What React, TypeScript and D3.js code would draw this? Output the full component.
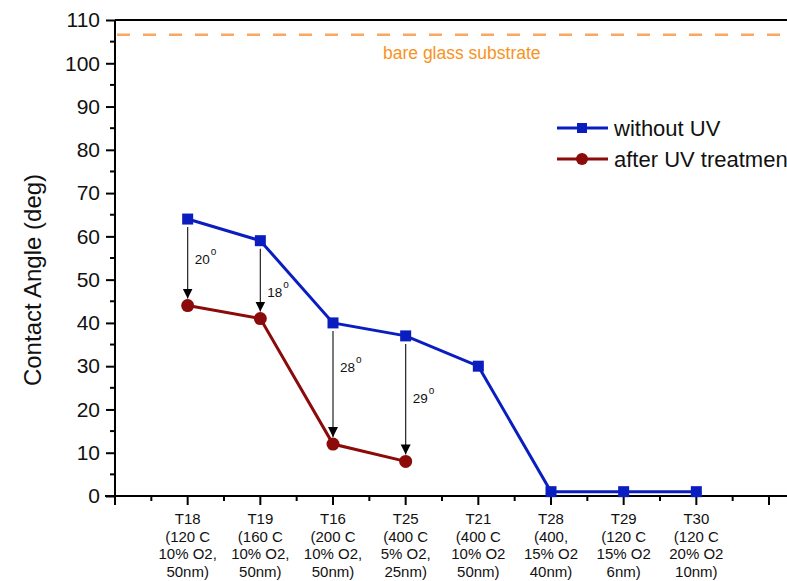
import { useEffect, useRef } from "react";
import * as d3 from "d3";

const samples = ["T18", "T19", "T16", "T25", "T21", "T28", "T29", "T30"];
const sampleInfo = [
  ["(120 C", "10% O2,", "50nm)"],
  ["(160 C", "10% O2,", "50nm)"],
  ["(200 C", "10% O2,", "50nm)"],
  ["(400 C", "5% O2,", "25nm)"],
  ["(400 C", "10% O2", "50nm)"],
  ["(400,", "15% O2", "40nm)"],
  ["(120 C", "15% O2", "6nm)"],
  ["(120 C", "20% O2", "10nm)"],
];
const withoutUV = [64, 59, 40, 37, 30, 1, 1, 1];
const afterUV = [44, 41, 12, 8];
const drops = ["20", "18", "28", "29"];
const bareGlass = 106.6;
const yTicks = [0, 10, 20, 30, 40, 50, 60, 70, 80, 90, 100, 110];

const BLUE = "#0a1ec0";
const RED = "#8b0a0a";

export default function App() {
  const ref = useRef<SVGSVGElement>(null);

  useEffect(() => {
    const svg = d3.select(ref.current);
    svg.selectAll("*").remove();

    const left = 115;
    const top = 20;
    const bottom = 496;
    const x = d3.scaleLinear().domain([0, 9]).range([left, 769]);
    const y = d3.scaleLinear().domain([0, 110]).range([bottom, top]);
    const right = 830;

    const font = "Arial, 'Liberation Sans', sans-serif";

    // frame top line
    svg.append("line")
      .attr("x1", left).attr("x2", right)
      .attr("y1", top).attr("y2", top)
      .attr("stroke", "#000").attr("stroke-width", 2);

    // y axis
    const yAxis = svg.append("g")
      .attr("transform", `translate(${left},0)`)
      .call(d3.axisLeft(y).tickValues(yTicks).tickSize(9).tickPadding(6));
    yAxis.select(".domain").attr("stroke-width", 2).attr("d", `M0,${top}V${bottom + 9}`);
    yAxis.selectAll(".tick line").attr("stroke-width", 2);
    yAxis.selectAll("text").attr("font-size", 21).attr("font-family", font).attr("fill", "#111");
    const yMinor = d3.range(5, 110, 10);
    svg.append("g").selectAll("line").data(yMinor).enter().append("line")
      .attr("x1", left - 5).attr("x2", left)
      .attr("y1", (d) => y(d)).attr("y2", (d) => y(d))
      .attr("stroke", "#000").attr("stroke-width", 2);

    // x axis
    svg.append("line")
      .attr("x1", left - 10).attr("x2", right)
      .attr("y1", bottom).attr("y2", bottom)
      .attr("stroke", "#000").attr("stroke-width", 2);
    svg.append("g").selectAll("line").data(d3.range(0, 10)).enter().append("line")
      .attr("x1", (d) => x(d)).attr("x2", (d) => x(d))
      .attr("y1", bottom).attr("y2", bottom + 9)
      .attr("stroke", "#000").attr("stroke-width", 2);
    svg.append("g").selectAll("line").data(d3.range(0.5, 10, 1)).enter().append("line")
      .attr("x1", (d) => x(d)).attr("x2", (d) => x(d))
      .attr("y1", bottom).attr("y2", bottom + 5)
      .attr("stroke", "#000").attr("stroke-width", 2);

    const labels = svg.append("g").attr("font-family", font).attr("font-size", 15).attr("fill", "#111").attr("text-anchor", "middle");
    samples.forEach((s, i) => {
      const lines = [s, ...sampleInfo[i]];
      lines.forEach((t, j) => {
        labels.append("text").attr("x", x(i + 1)).attr("y", 524 + j * 17.5).text(t);
      });
    });

    // axis title
    svg.append("text")
      .attr("transform", `translate(41,280) rotate(-90)`)
      .attr("text-anchor", "middle")
      .attr("font-family", font).attr("font-size", 24).attr("fill", "#111")
      .text("Contact Angle (deg)");

    // bare glass
    svg.append("line")
      .attr("x1", left + 2).attr("x2", right)
      .attr("y1", y(bareGlass)).attr("y2", y(bareGlass))
      .attr("stroke", "#f8a862").attr("stroke-width", 2.5)
      .attr("stroke-dasharray", "13,13");
    svg.append("text")
      .attr("x", 383).attr("y", 59)
      .attr("font-family", font).attr("font-size", 17.5).attr("fill", "#f7931e")
      .text("bare glass substrate");

    // arrows
    const defs = svg.append("defs");
    defs.append("marker")
      .attr("id", "arrow").attr("viewBox", "0 0 10 10")
      .attr("refX", 10).attr("refY", 5)
      .attr("markerWidth", 10).attr("markerHeight", 14)
      .attr("markerUnits", "userSpaceOnUse")
      .attr("orient", "auto")
      .append("path").attr("d", "M0,0L10,5L0,10Z").attr("fill", "#000");

    const labelY = [264, 297, 372, 403];
    afterUV.forEach((v, i) => {
      svg.append("line")
        .attr("x1", x(i + 1)).attr("x2", x(i + 1))
        .attr("y1", y(withoutUV[i]) + 8).attr("y2", y(v) - 7)
        .attr("stroke", "#222").attr("stroke-width", 1.2)
        .attr("marker-end", "url(#arrow)");
      const t = svg.append("text")
        .attr("x", x(i + 1) + 7).attr("y", labelY[i])
        .attr("font-family", font).attr("font-size", 13.5).attr("fill", "#111")
        .text(drops[i]);
      t.append("tspan").attr("dx", 1).attr("dy", -9).attr("font-size", 10).text("o");
    });

    // series lines
    const line = d3.line<number>().x((_, i) => x(i + 1)).y((d) => y(d));
    svg.append("path").datum(afterUV).attr("d", line)
      .attr("fill", "none").attr("stroke", RED).attr("stroke-width", 3);
    svg.append("path").datum(withoutUV).attr("d", line)
      .attr("fill", "none").attr("stroke", BLUE).attr("stroke-width", 3);

    svg.append("g").selectAll("circle").data(afterUV).enter().append("circle")
      .attr("cx", (_, i) => x(i + 1)).attr("cy", (d) => y(d)).attr("r", 6.5)
      .attr("fill", RED);
    svg.append("g").selectAll("rect").data(withoutUV).enter().append("rect")
      .attr("x", (_, i) => x(i + 1) - 5.5).attr("y", (d) => y(d) - 5.5)
      .attr("width", 11).attr("height", 11)
      .attr("fill", BLUE);

    // legend
    const lg = svg.append("g").attr("font-family", font);
    lg.append("line").attr("x1", 557).attr("x2", 608).attr("y1", 128).attr("y2", 128)
      .attr("stroke", BLUE).attr("stroke-width", 3);
    lg.append("rect").attr("x", 577).attr("y", 123).attr("width", 10).attr("height", 10).attr("fill", BLUE);
    lg.append("text").attr("x", 614).attr("y", 136).attr("font-size", 22).attr("fill", "#111").text("without UV");
    lg.append("line").attr("x1", 557).attr("x2", 608).attr("y1", 159).attr("y2", 159)
      .attr("stroke", RED).attr("stroke-width", 3);
    lg.append("circle").attr("cx", 582).attr("cy", 159).attr("r", 6).attr("fill", RED);
    lg.append("text").attr("x", 614).attr("y", 167).attr("font-size", 22).attr("fill", "#111").text("after UV treatment");
  }, []);

  return (
    <svg
      ref={ref}
      width={787}
      height={581}
      style={{ position: "absolute", left: 0, top: 0, background: "#fff" }}
    ></svg>
  );
}
